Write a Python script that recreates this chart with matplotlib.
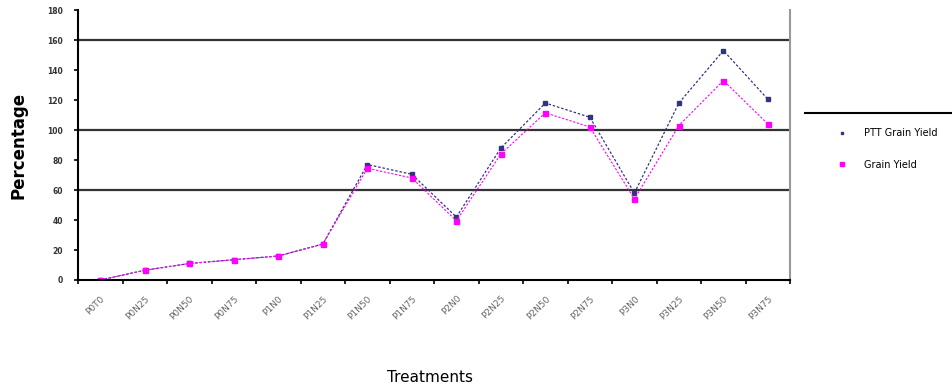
#!/usr/bin/env python3
"""
Percentage by treatment, two series
"""

import matplotlib
matplotlib.use('Agg')  # headless
import matplotlib.pyplot as plt
from matplotlib.lines import Line2D

treatments = ['P0T0', 'P0N25', 'P0N50', 'P0N75', 'P1N0', 'P1N25', 'P1N50', 'P1N75',
              'P2N0', 'P2N25', 'P2N50', 'P2N75', 'P3N0', 'P3N25', 'P3N50', 'P3N75']
ptt_grain = [0, 6.5, 11, 13.5, 16, 24, 77, 70.5, 42, 88, 118, 108.5, 58, 118, 153, 120.5]
grain_yield = [0, 6.5, 11, 13.5, 16, 24, 74.5, 68, 39.5, 84, 111.5, 102, 54, 103, 133, 104]
y_ticks = [0, 20, 40, 60, 80, 100, 120, 140, 160, 180]
ref_lines = [60, 100, 160]

fig = plt.figure(figsize=(9.52, 3.87), dpi=100)
ax = fig.add_axes([0.082, 0.2765, 0.748, 0.6975])

x = list(range(len(treatments)))
ax.plot(x, ptt_grain, color='#333380', linestyle=(0, (2, 1.5)), linewidth=0.9,
        marker='s', markersize=2.5, label='PTT Grain Yield')
ax.plot(x, grain_yield, color='#ff00ff', linestyle=(0, (2, 1.5)), linewidth=0.8,
        marker='s', markersize=3.6, label='Grain Yield')

for v in ref_lines:
    ax.axhline(v, color='#333333', linewidth=1.6, zorder=0)

ax.set_xlim(-0.5, len(treatments) - 0.5)
ax.set_ylim(0, 180)
ax.set_yticks(y_ticks)
ax.set_yticklabels([str(v) for v in y_ticks], fontsize=5.5, fontweight='bold',
                   color='#333333')
ax.set_xticks([i - 0.5 for i in range(len(treatments) + 1)])
ax.set_xticklabels([])
ax.set_xticks(x, minor=True)
ax.set_xticklabels(treatments, minor=True, rotation=45, ha='right', va='top',
                   fontsize=6.5, color='#666666', rotation_mode='anchor')
ax.tick_params(axis='x', which='minor', length=0, pad=10)
ax.tick_params(axis='x', which='major', length=3, width=1.2)
ax.tick_params(axis='y', length=3, width=1.2, pad=8)

ax.spines['top'].set_visible(False)
ax.spines['left'].set_linewidth(1.5)
ax.spines['bottom'].set_linewidth(1.5)
ax.spines['right'].set_color('#999999')
ax.spines['right'].set_linewidth(1.5)

ax.set_ylabel('Percentage', fontsize=12, fontweight='bold', labelpad=14)
fig.text(430 / 952, 1 - 377 / 387, 'Treatments', fontsize=11,
         ha='center', va='center')

leg = ax.legend(loc='upper left', bbox_to_anchor=(1.05, 0.595), frameon=False,
                fontsize=7, handlelength=1.5, handletextpad=1.5, labelspacing=2.2,
                markerscale=0.8)
for h in leg.legend_handles:
    h.set_linestyle('none')

# line above the legend
fig.add_artist(Line2D([805 / 952, 1.0], [1 - 113 / 387, 1 - 113 / 387],
                      color='black', linewidth=1.5))

plt.savefig('out.png', dpi=100, facecolor='white')
plt.close(fig)
